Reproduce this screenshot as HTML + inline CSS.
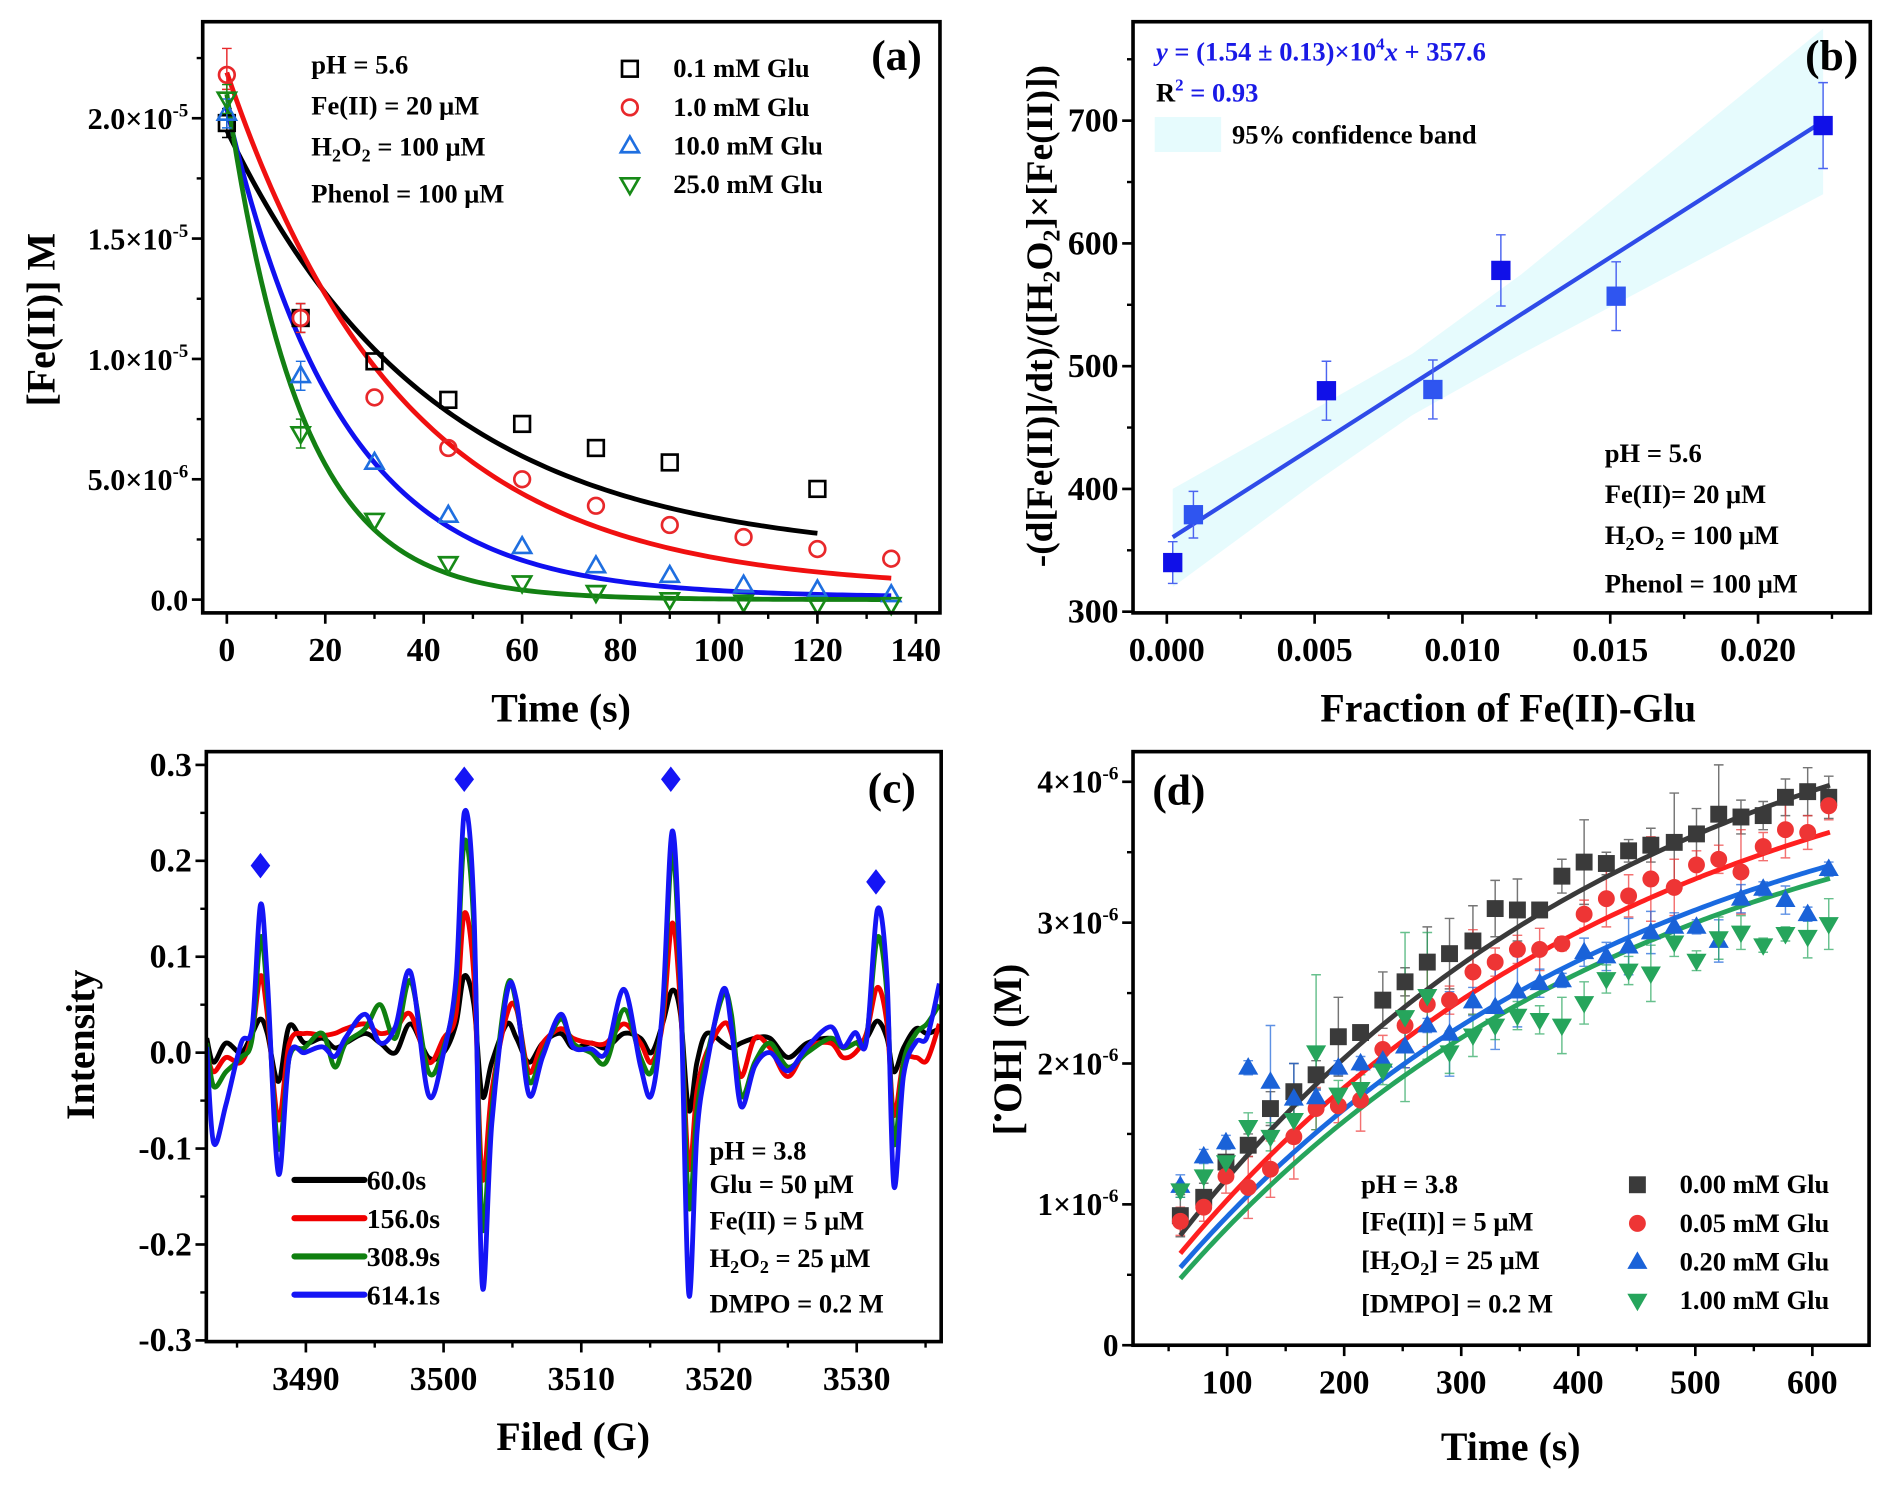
<!DOCTYPE html>
<html><head><meta charset="utf-8">
<style>
html,body{margin:0;padding:0;background:#fff;}
svg{display:block;}
text{font-family:"Liberation Serif",serif;font-weight:bold;fill:#000;}
</style></head>
<body>
<svg id="fig" width="1892" height="1490" viewBox="0 0 1568 1235" preserveAspectRatio="none" xmlns="http://www.w3.org/2000/svg"></svg>
<script>
// ---------- Panel (a) data ----------
const aTimes=[0,15,30,45,60,75,90,105,120,135];
const aT01=[0,15,30,45,60,75,90,120];
const aY01=[1.98,1.17,0.99,0.83,0.73,0.63,0.57,0.46];
const aY1=[2.18,1.17,0.84,0.63,0.50,0.39,0.31,0.26,0.21,0.17];
const aY10=[2.02,0.93,0.57,0.35,0.22,0.14,0.10,0.06,0.04,0.02];
const aY25=[2.08,0.69,0.33,0.15,0.07,0.03,0.00,-0.01,-0.02,-0.02];
const aFitA=[1.774,2.15,2.03,2.10];
const aFitK=[0.024,0.028,0.043,0.066];
const aFitC=[0.176,0.04,0.01,0.0];
const aFitEnd=[120,135,135,135];
const aXTicks=[0,20,40,60,80,100,120,140];
const aYTicks=[0,0.5,1.0,1.5,2.0];
const aYTickLabels=["0.0","5.0×10|-6","1.0×10|-5","1.5×10|-5","2.0×10|-5"];
const aLegend=["0.1 mM Glu","1.0 mM Glu","10.0 mM Glu","25.0 mM Glu"];
// ---------- Panel (b) data ----------
const bX=[0.0002,0.0009,0.0054,0.0090,0.0113,0.0152,0.0222];
const bY=[340,379,480,481,578,557,696];
const bErr=[17,19,24,24,29,28,35];
const bSlope=15400, bIntercept=357.6;
const bBandX=[0.0002,0.005,0.0083,0.012,0.0222];
const bBandLow=[320,405,460,510,640];
const bBandHigh=[400,465,510,575,775];
const bXTicks=[0,0.005,0.010,0.015,0.020];
const bXTickLabels=["0.000","0.005","0.010","0.015","0.020"];
const bYTicks=[300,400,500,600,700];
// ---------- Panel (c) data ----------
const cG=[3482.8,3483.3,3484.2,3485.3,3486.1,3486.7,3487.2,3488.0,3488.8,3489.9,3491.2,3492.1,3492.9,3494.3,3495.4,3496.5,3497.6,3498.9,3500.0,3500.9,3501.5,3502.2,3502.8,3503.5,3504.6,3505.3,3506.2,3507.2,3508.5,3509.4,3510.7,3511.8,3513.1,3514.3,3515.1,3515.9,3516.6,3517.2,3517.8,3518.4,3519.1,3520.3,3520.9,3521.6,3522.6,3523.7,3525.0,3526.4,3528.1,3529.0,3529.9,3530.7,3531.5,3532.2,3532.7,3533.4,3534.3,3535.1,3536.0];
const c60=[0.015,-0.010,0.010,0.000,0.020,0.035,0.020,-0.030,0.028,0.010,0.015,0.005,0.010,0.020,0.010,0.000,0.030,-0.005,0.000,0.030,0.080,0.050,-0.045,-0.010,0.030,0.015,-0.010,0.010,0.020,0.005,0.010,0.005,0.020,0.015,0.000,0.030,0.065,0.040,-0.060,-0.010,0.020,0.010,0.005,0.010,0.015,0.015,-0.005,0.010,0.015,0.005,0.010,0.015,0.033,0.015,-0.020,0.005,0.025,0.020,0.025];
const c156=[0.000,-0.020,-0.005,-0.010,0.020,0.080,0.040,-0.070,0.010,0.020,0.018,0.020,0.025,0.030,0.020,0.025,0.040,-0.010,0.015,0.040,0.145,0.080,-0.130,-0.040,0.040,0.045,-0.020,0.010,0.025,0.015,0.010,0.010,0.030,0.010,-0.010,0.030,0.135,0.050,-0.120,-0.040,0.000,0.030,0.020,-0.025,0.015,0.005,-0.025,0.005,0.010,-0.005,0.000,0.020,0.068,0.030,-0.065,-0.010,-0.005,-0.008,0.030];
const c309=[0.010,-0.035,-0.020,-0.005,0.015,0.120,0.060,-0.100,-0.005,0.005,0.020,-0.015,0.010,0.025,0.050,0.015,0.075,-0.020,0.005,0.070,0.220,0.130,-0.180,-0.060,0.068,0.050,-0.030,0.000,0.035,0.010,0.000,-0.010,0.045,-0.005,-0.020,0.040,0.210,0.070,-0.160,-0.060,-0.005,0.060,0.040,-0.045,-0.010,0.010,-0.015,0.000,0.015,0.005,0.010,0.015,0.120,0.060,-0.095,-0.010,0.020,0.030,0.050];
const c614=[0.006,-0.094,-0.054,0.010,0.027,0.154,0.077,-0.126,-0.004,0.000,0.006,-0.004,0.016,0.040,0.010,0.027,0.084,-0.044,0.000,0.077,0.250,0.150,-0.241,-0.074,0.062,0.054,-0.044,-0.004,0.040,0.006,0.004,0.000,0.066,-0.014,-0.044,0.046,0.231,0.077,-0.251,-0.084,-0.014,0.066,0.027,-0.056,-0.014,0.000,-0.019,0.006,0.027,0.006,0.021,0.011,0.149,0.077,-0.139,-0.024,0.011,0.016,0.072];
const cDiamondG=[3486.7,3501.5,3516.5,3531.4];
const cDiamondY=[0.195,0.285,0.285,0.178];
const cXTicks=[3490,3500,3510,3520,3530];
const cYTicks=[-0.3,-0.2,-0.1,0,0.1,0.2,0.3];
const cYTickLabels=["-0.3","-0.2","-0.1","0.0","0.1","0.2","0.3"];
const cLegend=["60.0s","156.0s","308.9s","614.1s"];
// ---------- Panel (d) data ----------
const dT=[60,80,99,118,137,157,176,195,214,233,252,271,290,310,329,348,367,386,405,424,443,462,482,501,520,539,558,577,596,614];
const dY0=[0.92,1.05,1.30,1.42,1.68,1.80,1.92,2.19,2.22,2.45,2.58,2.72,2.78,2.87,3.10,3.09,3.09,3.33,3.43,3.42,3.51,3.55,3.57,3.63,3.77,3.75,3.76,3.89,3.93,3.89];
const dY005=[0.88,0.98,1.20,1.12,1.25,1.48,1.68,1.70,1.74,2.10,2.27,2.42,2.45,2.65,2.72,2.81,2.81,2.85,3.06,3.17,3.19,3.31,3.25,3.41,3.45,3.36,3.54,3.66,3.64,3.83];
const dY02=[1.13,1.34,1.44,1.97,1.87,1.75,1.76,1.97,2.00,2.02,2.12,2.27,2.21,2.44,2.40,2.51,2.57,2.59,2.79,2.76,2.83,2.93,2.97,2.97,2.87,3.17,3.24,3.16,3.06,3.38];
const dY1=[1.10,1.20,1.30,1.55,1.48,1.60,2.08,1.78,1.82,1.95,2.33,2.48,2.08,2.20,2.27,2.34,2.31,2.27,2.43,2.60,2.66,2.64,2.86,2.73,2.89,2.93,2.84,2.92,2.90,2.99];
const dErr0=[0.15,0.1,0.1,0.08,0.12,0.2,0.1,0.28,0.05,0.2,0.1,0.25,0.25,0.25,0.2,0.22,0.05,0.12,0.3,0.08,0.08,0.12,0.35,0.18,0.35,0.12,0.1,0.13,0.17,0.15];
const dErr005=[0.1,0.1,0.12,0.22,0.2,0.3,0.15,0.12,0.22,0.1,0.3,0.3,0.1,0.3,0.1,0.1,0.15,0.05,0.1,0.2,0.15,0.3,0.2,0.1,0.1,0.3,0.1,0.2,0.12,0.1];
const dErr02=[0.08,0.05,0.05,0.05,0.4,0.25,0.05,0.05,0.05,0.05,0.15,0.05,0.3,0.1,0.3,0.25,0.1,0.05,0.1,0.1,0.2,0.15,0.1,0.05,0.15,0.1,0.05,0.1,0.05,0.05];
const dErr1=[0.05,0.1,0.05,0.1,0.1,0.1,0.55,0.1,0.1,0.1,0.6,0.45,0.15,0.15,0.1,0.1,0.1,0.2,0.15,0.1,0.1,0.2,0.1,0.07,0.15,0.12,0.05,0.05,0.15,0.18];
const dFitA=[4.95,4.63,4.42,4.40];
const dFitK=[0.0025,0.0025,0.0025,0.0025];
const dFitB=[0.09,0.007,-0.064,-0.14];
const dXTicks=[100,200,300,400,500,600];
const dYTicks=[0,1,2,3,4];
const dYTickLabels=["0","1×10|-6","2×10|-6","3×10|-6","4×10|-6"];
const dLegend=["0.00 mM Glu","0.05 mM Glu","0.20 mM Glu","1.00 mM Glu"];

// ---------- helpers ----------
const NS="http://www.w3.org/2000/svg";
const svg=document.getElementById('fig');
function mk(tag,parent){const e=document.createElementNS(NS,tag);(parent||svg).appendChild(e);return e;}
function set(e,o){for(const k in o)e.setAttribute(k,o[k]);return e;}
function lin(d0,d1,r0,r1){return v=>r0+(v-d0)*(r1-r0)/(d1-d0);}
function supText(parent,x,y,label,size,anchor){
  const t=mk('text',parent);set(t,{x:x,y:y,'font-size':size,'text-anchor':anchor||'end'});
  const parts=label.split('|');
  t.appendChild(document.createTextNode(parts[0]));
  if(parts[1]){const s=mk('tspan',t);set(s,{dy:-size*0.42,'font-size':size*0.62});s.textContent=parts[1];}
  return t;
}
function frame(g,x0,y0,x1,y1){
  const r=mk('rect',g);set(r,{x:x0,y:y0,width:x1-x0,height:y1-y0,fill:'none',stroke:'#000','stroke-width':3});
  
  
}
function xAxis(g,sx,y,ticks,labels,minor,fs){
  ticks.forEach((v,i)=>{
    const l=mk('line',g);set(l,{x1:sx(v),x2:sx(v),y1:y,y2:y+9,stroke:'#000','stroke-width':2.2});
    
    
    const t=mk('text',g);set(t,{x:sx(v),y:y+40,'font-size':fs,'text-anchor':'middle'});t.textContent=labels[i];
    
    
  });
  minor.forEach(v=>{const l=mk('line',g);set(l,{x1:sx(v),x2:sx(v),y1:y,y2:y+5,stroke:'#000','stroke-width':2});
    
    });
}
function yAxis(g,sy,x,ticks,labels,minor,fs){
  ticks.forEach((v,i)=>{
    const l=mk('line',g);set(l,{x1:x-9,x2:x,y1:sy(v),y2:sy(v),stroke:'#000','stroke-width':2.2});
    
    
    const t=supText(g,x-12,sy(v)+9,labels[i],fs,'end');
    
    
  });
  minor.forEach(v=>{const l=mk('line',g);set(l,{x1:x-5,x2:x,y1:sy(v),y2:sy(v),stroke:'#000','stroke-width':2});
    
    });
}
function label(g,x,y,txt,fs,opts){
  const t=mk('text',g);set(t,Object.assign({x:x,y:y,'font-size':fs},opts||{}));t.textContent=txt;return t;
}
function polyPath(pts){return 'M'+pts.map(p=>p[0].toFixed(2)+','+p[1].toFixed(2)).join('L');}
function smoothPath(pts){
  let d='M'+pts[0][0]+','+pts[0][1];
  for(let i=0;i<pts.length-1;i++){
    const p0=pts[Math.max(0,i-1)],p1=pts[i],p2=pts[i+1],p3=pts[Math.min(pts.length-1,i+2)];
    const c1=[p1[0]+(p2[0]-p0[0])/6,p1[1]+(p2[1]-p0[1])/6];
    const c2=[p2[0]-(p3[0]-p1[0])/6,p2[1]-(p3[1]-p1[1])/6];
    d+='C'+c1[0].toFixed(2)+','+c1[1].toFixed(2)+' '+c2[0].toFixed(2)+','+c2[1].toFixed(2)+' '+p2[0].toFixed(2)+','+p2[1].toFixed(2);
  }
  return d;
}
function marker(g,shape,x,y,color,filled,s){
  let e;
  if(shape==='square'){e=mk('rect',g);set(e,{x:x-s,y:y-s,width:2*s,height:2*s});}
  else if(shape==='circle'){e=mk('circle',g);set(e,{cx:x,cy:y,r:s});}
  else if(shape==='up'){e=mk('polygon',g);set(e,{points:`${x},${y-s*1.2} ${x-s*1.15},${y+s*0.8} ${x+s*1.15},${y+s*0.8}`});}
  else if(shape==='down'){e=mk('polygon',g);set(e,{points:`${x},${y+s*1.2} ${x-s*1.15},${y-s*0.8} ${x+s*1.15},${y-s*0.8}`});}
  else if(shape==='diamond'){e=mk('polygon',g);set(e,{points:`${x},${y-s*1.3} ${x-s},${y} ${x},${y+s*1.3} ${x+s},${y}`});}
  set(e,{fill:filled?color:'none',stroke:color,'stroke-width':filled?1:2.2});
  return e;
}
function errBar(g,x,y1,y2,color,w){
  const l=mk('path',g);set(l,{d:`M${x},${y1}L${x},${y2}M${x-w},${y1}L${x+w},${y1}M${x-w},${y2}L${x+w},${y2}`,stroke:color,'stroke-width':1.2,fill:'none'});
  return l;
}
function rng(a,b,s){const r=[];for(let v=a;v<=b+1e-9;v+=s)r.push(+v.toFixed(6));return r;}

// ================= Panel (a) =================
(function(){
  const g=mk('g');
  const X0=168,X1=779,Y0=18,Y1=508;
  const sx=lin(0,140,188,759), sy=lin(0,2.0,497,98);
  const colors=['#000','#e8282b','#1f6fe0','#178a17'];
  const curveColors=['#000','#f01010','#1010f0','#138013'];
  const shapes=['square','circle','up','down'];
  for(let i=0;i<4;i++){
    const pts=[];for(let t=0;t<=aFitEnd[i];t+=1)pts.push([sx(t),sy(aFitC[i]+aFitA[i]*Math.exp(-aFitK[i]*t))]);
    const p=mk('path',g);set(p,{d:polyPath(pts),fill:'none',stroke:curveColors[i],'stroke-width':4});
    
    
  }
  const series=[[aT01,aY01],[aTimes,aY1],[aTimes,aY10],[aTimes,aY25]];
  series.forEach((s,i)=>{
    s[0].forEach((t,j)=>{
      if(j<2){const e=errBar(g,sx(t),sy(s[1][j]+(i==1&&j==0?0.11:0.06)),sy(s[1][j]-0.06),colors[i],4);
        
        }
      const m=marker(g,shapes[i],sx(t),sy(s[1][j]),colors[i],false,6.5);
      
      
    });
  });
  frame(g,X0,Y0,X1,Y1);
  xAxis(g,sx,Y1,aXTicks,aXTicks.map(String),rng(10,130,20),28);
  yAxis(g,sy,X0,aYTicks,aYTickLabels,[0.25,0.75,1.25,1.75,2.25],25);
  let t=label(g,465,598,'Time (s)',33,{'text-anchor':'middle'});
  t=label(g,0,0,'[Fe(II)] M',33,{'text-anchor':'middle',transform:'translate(45,265) rotate(-90)'});
  t=label(g,764,58,'(a)',36,{'text-anchor':'end'});
  const ann=mk('g',g);
  label(ann,258,61,'pH = 5.6',22);
  label(ann,258,95,'Fe(II) = 20 μM',22);
  t=label(ann,258,129,'H',22);let s=mk('tspan',t);set(s,{'font-size':15,dy:5});s.textContent='2';s=mk('tspan',t);set(s,{dy:-5});s.textContent='O';s=mk('tspan',t);set(s,{'font-size':15,dy:5});s.textContent='2';s=mk('tspan',t);set(s,{dy:-5});s.textContent=' = 100 μM';
  label(ann,258,168,'Phenol = 100 μM',22);
  aLegend.forEach((txt,i)=>{
    const lg=mk('g',g);
    marker(lg,shapes[i],522,57+i*32,colors[i],false,6.5);
    label(lg,558,64+i*32,txt,22);
  });
})();

// ================= Panel (b) =================
(function(){
  const g=mk('g');
  const X0=939,X1=1550,Y0=18,Y1=508;
  const sx=lin(0,0.020,967,1457), sy=lin(300,700,507,100);
  const top=bBandX.map((x,i)=>[sx(x),Math.max(Y0,sy(bBandHigh[i]))]);
  const bot=bBandX.map((x,i)=>[sx(x),sy(bBandLow[i])]).reverse();
  const band=mk('path',g);set(band,{d:polyPath(top.concat(bot))+'Z',fill:'#e6fbfd',stroke:'none'});
  
  
  const fl=mk('line',g);set(fl,{x1:sx(bX[0]),y1:sy(bIntercept+bSlope*bX[0]),x2:sx(bX[bX.length-1]),y2:sy(bIntercept+bSlope*bX[bX.length-1]),stroke:'#2f4be8','stroke-width':3.5});
  
  
  bX.forEach((x,i)=>{
    const e=errBar(g,sx(x),sy(bY[i]+bErr[i]),sy(bY[i]-bErr[i]),'#4b64f0',4);
    
    
    const m=marker(g,'square',sx(x),sy(bY[i]),i%2?'#2f55f0':'#1010e8',true,7.5);
    
    
  });
  frame(g,X0,Y0,X1,Y1);
  xAxis(g,sx,Y1,bXTicks,bXTickLabels,[0.0025,0.0075,0.0125,0.0175,0.0225],28);
  yAxis(g,sy,X0,bYTicks,bYTicks.map(String),[350,450,550,650,750],28);
  let t=label(g,1250,598,'Fraction of Fe(II)-Glu',33,{'text-anchor':'middle'});
  t=mk('text',g);set(t,{'font-size':31,'text-anchor':'middle',transform:'translate(872,262) rotate(-90)'});
  t.appendChild(document.createTextNode('-(d[Fe(II)]/dt)/([H'));
  let s=mk('tspan',t);set(s,{'font-size':20,dy:6});s.textContent='2';
  s=mk('tspan',t);set(s,{dy:-6});s.textContent='O';
  s=mk('tspan',t);set(s,{'font-size':20,dy:6});s.textContent='2';
  s=mk('tspan',t);set(s,{dy:-6});s.textContent=']×[Fe(II)])';
  
  t=label(g,1540,58,'(b)',36,{'text-anchor':'end'});
  t=mk('text',g);set(t,{x:958,y:50,'font-size':22,fill:'#1a1ae6'});
  s=mk('tspan',t);set(s,{'font-style':'italic',fill:'#1a1ae6'});s.textContent='y';
  s=mk('tspan',t);set(s,{fill:'#1a1ae6'});s.textContent=' = (1.54 ± 0.13)×10';
  s=mk('tspan',t);set(s,{fill:'#1a1ae6','font-size':14,dy:-9});s.textContent='4';
  s=mk('tspan',t);set(s,{fill:'#1a1ae6','font-style':'italic',dy:9});s.textContent='x';
  s=mk('tspan',t);set(s,{fill:'#1a1ae6'});s.textContent=' + 357.6';
  
  t=mk('text',g);set(t,{x:958,y:84,'font-size':22,fill:'#1a1ae6'});
  t.appendChild(document.createTextNode('R'));
  s=mk('tspan',t);set(s,{fill:'#1a1ae6','font-size':14,dy:-9});s.textContent='2';
  s=mk('tspan',t);set(s,{fill:'#1a1ae6',dy:9});s.textContent=' = 0.93';
  
  const lg=mk('g',g);
  const r=mk('rect',lg);set(r,{x:957,y:97,width:55,height:29,fill:'#e6fbfd'});
  label(lg,1021,119,'95% confidence band',22);
  const ann=mk('g',g);
  label(ann,1330,383,'pH = 5.6',22);
  label(ann,1330,417,'Fe(II)= 20 μM',22);
  t=label(ann,1330,451,'H',22);s=mk('tspan',t);set(s,{'font-size':15,dy:5});s.textContent='2';s=mk('tspan',t);set(s,{dy:-5});s.textContent='O';s=mk('tspan',t);set(s,{'font-size':15,dy:5});s.textContent='2';s=mk('tspan',t);set(s,{dy:-5});s.textContent=' = 100 μM';
  label(ann,1330,491,'Phenol = 100 μM',22);
})();

// ================= Panel (c) =================
(function(){
  const g=mk('g');
  const X0=171,X1=780,Y0=623,Y1=1112;
  const sx=lin(3490,3530,253.5,710), sy=lin(-0.3,0.3,1111,634);
  const cp=mk('clipPath',g);cp.setAttribute('id','clipc');
  const cr=mk('rect',cp);set(cr,{x:X0,y:Y0,width:X1-X0,height:Y1-Y0});
  const series=[c60,c156,c309,c614];
  const cols=['#000','#f00000','#0f800f','#1515f5'];
  series.forEach((ys,i)=>{
    const p=mk('path',g);set(p,{d:smoothPath(cG.map((x,j)=>[sx(x),sy(ys[j])])),fill:'none',stroke:cols[i],'stroke-width':4,'clip-path':'url(#clipc)','stroke-linejoin':'round'});
    
    
  });
  cDiamondG.forEach((x,i)=>{
    const m=marker(g,'diamond',sx(x),sy(cDiamondY[i]),'#1515f5',true,7.5);
    
    
  });
  frame(g,X0,Y0,X1,Y1);
  xAxis(g,sx,Y1,cXTicks,cXTicks.map(String),[3485,3495,3505,3515,3525,3535],28);
  yAxis(g,sy,X0,cYTicks,cYTickLabels,[-0.25,-0.15,-0.05,0.05,0.15,0.25],28);
  let t=label(g,475,1202,'Filed (G)',33,{'text-anchor':'middle'});
  t=label(g,0,0,'Intensity',33,{'text-anchor':'middle',transform:'translate(78,866) rotate(-90)'});
  t=label(g,759,665,'(c)',36,{'text-anchor':'end'});
  cLegend.forEach((txt,i)=>{
    const lg=mk('g',g);
    const l=mk('line',lg);set(l,{x1:244,x2:302,y1:978+i*31.7,y2:978+i*31.7,stroke:cols[i],'stroke-width':5,'stroke-linecap':'round'});
    label(lg,304,986+i*31.7,txt,23);
  });
  const ann=mk('g',g);
  label(ann,588,961,'pH = 3.8',22);
  label(ann,588,989,'Glu = 50 μM',22);
  label(ann,588,1019,'Fe(II) = 5 μM',22);
  t=label(ann,588,1050,'H',22);let s=mk('tspan',t);set(s,{'font-size':15,dy:5});s.textContent='2';s=mk('tspan',t);set(s,{dy:-5});s.textContent='O';s=mk('tspan',t);set(s,{'font-size':15,dy:5});s.textContent='2';s=mk('tspan',t);set(s,{dy:-5});s.textContent=' = 25 μM';
  label(ann,588,1088,'DMPO = 0.2 M',22);
})();

// ================= Panel (d) =================
(function(){
  const g=mk('g');
  const X0=939,X1=1549,Y0=623,Y1=1115;
  const sx=lin(100,600,1017,1502), sy=lin(0,4,1115,648);
  const cols=['#3a3a3a','#ee3535','#1a62d8','#26a55c'];
  const fitCols=['#3a3a3a','#ff2020','#1a6ae0','#26a55c'];
  const shapes=['square','circle','up','down'];
  const series=[[dY0,dErr0],[dY005,dErr005],[dY02,dErr02],[dY1,dErr1]];
  series.forEach((s,i)=>{
    dT.forEach((t,j)=>{
      const e=errBar(g,sx(t),sy(s[0][j]+s[1][j]),sy(s[0][j]-s[1][j]),cols[i],4);
      e.setAttribute('stroke-opacity','0.7');
      
      
    });
  });
  for(let i=0;i<4;i++){
    const pts=[];for(let t=60;t<=615;t+=3)pts.push([sx(t),sy(dFitB[i]+dFitA[i]*(1-Math.exp(-dFitK[i]*t)))]);
    const p=mk('path',g);set(p,{d:polyPath(pts),fill:'none',stroke:fitCols[i],'stroke-width':4});
    
    
  }
  series.forEach((s,i)=>{
    dT.forEach((t,j)=>{
      const m=marker(g,shapes[i],sx(t),sy(s[0][j]),cols[i],true,6.5);
      
      
    });
  });
  frame(g,X0,Y0,X1,Y1);
  xAxis(g,sx,Y1,dXTicks,dXTicks.map(String),[50,150,250,350,450,550],28);
  yAxis(g,sy,X0,dYTicks,dYTickLabels,[0.5,1.5,2.5,3.5],26);
  let t=label(g,1252,1210,'Time (s)',33,{'text-anchor':'middle'});
  t=mk('text',g);set(t,{'font-size':33,'text-anchor':'middle',transform:'translate(846,870) rotate(-90)'});
  t.appendChild(document.createTextNode('['));
  let s=mk('tspan',t);set(s,{dy:-12,'font-size':22});s.textContent='•';
  s=mk('tspan',t);set(s,{dy:12});s.textContent='OH] (M)';
  
  t=label(g,955,667,'(d)',36);
  const ann=mk('g',g);
  label(ann,1128,989,'pH = 3.8',22);
  label(ann,1128,1020,'[Fe(II)] = 5 μM',22);
  t=label(ann,1128,1052,'[H',22);s=mk('tspan',t);set(s,{'font-size':15,dy:5});s.textContent='2';s=mk('tspan',t);set(s,{dy:-5});s.textContent='O';s=mk('tspan',t);set(s,{'font-size':15,dy:5});s.textContent='2';s=mk('tspan',t);set(s,{dy:-5});s.textContent='] = 25 μM';
  label(ann,1128,1088,'[DMPO] = 0.2 M',22);
  dLegend.forEach((txt,i)=>{
    const lg=mk('g',g);
    marker(lg,shapes[i],1357,982+i*32,cols[i],true,6.5);
    label(lg,1392,989+i*32,txt,22);
  });
})();
</script>
</body></html>
